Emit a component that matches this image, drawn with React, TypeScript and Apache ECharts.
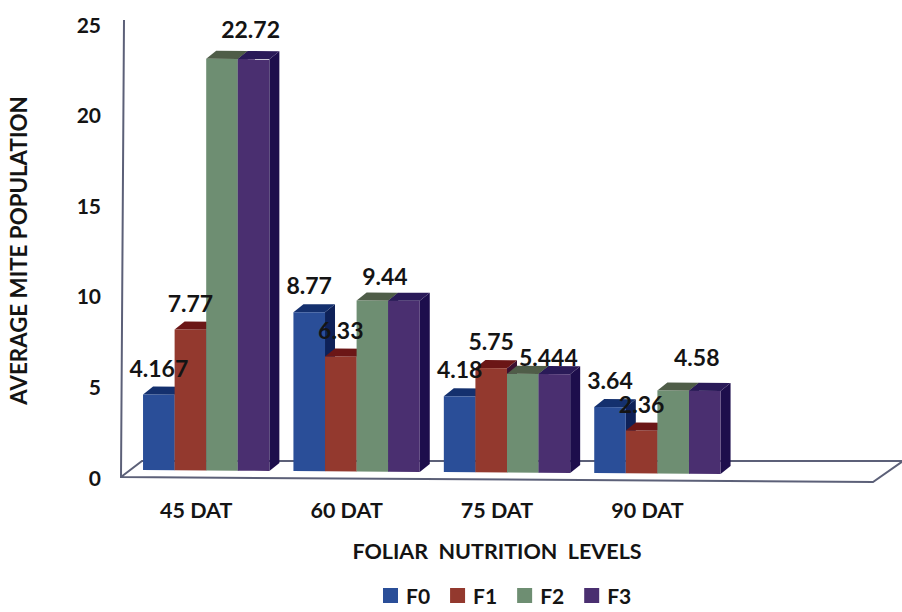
import React, { useEffect, useRef } from "react";
import * as echarts from "echarts";

const categories = ["45 DAT", "60 DAT", "75 DAT", "90 DAT"];
const seriesNames = ["F0", "F1", "F2", "F3"];
const f0Values = [4.167, 8.77, 4.18, 3.64];
const f1Values = [7.77, 6.33, 5.75, 2.36];
const f2Values = [22.72, 9.44, 5.444, 4.58];
const f3Values = [22.72, 9.44, 5.444, 4.58];
const yTicks = [0, 5, 10, 15, 20, 25];

// Face colours per series: front, top, side.
const faces = [
  ["#2a4e98", "#14306e", "#0e2158"],
  ["#93392e", "#6b1616", "#3c1030"],
  ["#6e8e72", "#4f5d48", "#2a2f50"],
  ["#4a2f70", "#2a1a58", "#1d0e4c"],
];

// Oblique projection of the bars onto the floor of the box.
const DEPTH_X = 10;
const DEPTH_Y = -8;
const BAR_OFFSET_X = 10;
const BAR_OFFSET_Y = -7;
const FLOOR_SKEW = 0.0066;
const FLOOR_LEFT = 121;

const FONT = "Lato, 'Open Sans', sans-serif";
const INK = "#141414";
const FRAME = "#5c6078";

const project = (x: number, y: number): [number, number] => [
  x + BAR_OFFSET_X,
  y + BAR_OFFSET_Y + (x - FLOOR_LEFT) * FLOOR_SKEW,
];

const barSeries = (index: number, values: number[]) => ({
  type: "custom",
  name: seriesNames[index],
  z: 2,
  itemStyle: { color: faces[index][0] },
  encode: { x: 0, y: 1 },
  data: values.map((v, i) => [i, v]),
  renderItem: (_: any, api: any) => {
    const cat = api.value(0);
    const top = api.coord([cat, api.value(1)]);
    const base = api.coord([cat, 0]);
    const width = api.size([1, 0])[0] * 0.21;
    const left = top[0] + (index - 2) * width;
    const right = left + width;
    const leftTop = project(left, top[1]);
    const rightTop = project(right, top[1]);
    const leftBase = project(left, base[1]);
    const rightBase = project(right, base[1]);
    const shift = (p: [number, number]) => [p[0] + DEPTH_X, p[1] + DEPTH_Y];
    const [front, topFace, side] = faces[index];
    return {
      type: "group",
      children: [
        {
          type: "polygon",
          shape: { points: [rightTop, shift(rightTop), shift(rightBase), rightBase] },
          style: { fill: side },
        },
        {
          type: "polygon",
          shape: { points: [leftTop, shift(leftTop), shift(rightTop), rightTop] },
          style: { fill: topFace },
        },
        {
          type: "polygon",
          shape: { points: [leftTop, rightTop, rightBase, leftBase] },
          style: { fill: front },
        },
      ],
    };
  },
});

// Value labels for F0, F1 and F3 sit above their bars; F3's are moved clear of neighbours.
const f3LabelShift = [
  [-3, -3],
  [-19, 2],
  [-6, 10],
  [-8, -7],
];

const labelSeries = (index: number, values: number[], shifts?: number[][]) => ({
  type: "custom",
  name: `${seriesNames[index]} values`,
  z: 5,
  encode: { x: 0, y: 1 },
  data: values.map((v, i) => [i, v]),
  renderItem: (_: any, api: any) => {
    const cat = api.value(0);
    const value = api.value(1);
    const top = api.coord([cat, value]);
    const width = api.size([1, 0])[0] * 0.21;
    const left = top[0] + (index - 2) * width;
    const p = project(left + width / 2, top[1]);
    const s = shifts ? shifts[cat] : [0, 0];
    return {
      type: "text",
      style: {
        text: String(value),
        x: p[0] + s[0],
        y: p[1] - 27 + s[1],
        align: "center",
        verticalAlign: "middle",
        fontFamily: FONT,
        fontWeight: "bold",
        fontSize: 23,
        fill: INK,
      },
    };
  },
});

export default function App() {
  const ref = useRef<HTMLDivElement>(null);
  useEffect(() => {
    const chart = echarts.init(ref.current!, undefined, { renderer: "svg" });
    chart.setOption({
      animation: false,
      backgroundColor: "#ffffff",
      grid: { left: 121, top: 24, width: 752, height: 453, outerBoundsMode: "none" },
      legend: {
        data: seriesNames,
        left: 383,
        top: 585,
        padding: 0,
        icon: "rect",
        itemWidth: 15,
        itemHeight: 15,
        itemGap: 20,
        textStyle: { fontFamily: FONT, fontWeight: "bold", fontSize: 21, color: INK, padding: [0, 0, 0, 3] },
      },
      xAxis: {
        type: "category",
        // The trailing empty band leaves the floor open to the right of the last group.
        data: [...categories, ""],
        axisLine: { show: false },
        axisTick: { show: false },
        axisLabel: { fontFamily: FONT, fontWeight: "bold", fontSize: 21.5, color: INK, margin: 22, interval: 0 },
        name: "FOLIAR  NUTRITION  LEVELS",
        nameLocation: "middle",
        nameGap: 63,
        nameTextStyle: { fontFamily: FONT, fontWeight: "bold", fontSize: 21.5, color: INK },
      },
      yAxis: {
        type: "value",
        min: yTicks[0],
        max: yTicks[yTicks.length - 1],
        interval: 5,
        splitLine: { show: false },
        axisLine: { show: false },
        axisTick: { show: false },
        axisLabel: {
          fontFamily: FONT,
          fontWeight: "bold",
          fontSize: 21,
          color: INK,
          margin: 20,
          padding: [0, 0, 8, 0],
        },
        name: "AVERAGE MITE POPULATION",
        nameLocation: "middle",
        nameGap: 92,
        nameTextStyle: { fontFamily: FONT, fontWeight: "bold", fontSize: 22.3, color: INK },
      },
      // Open box of the plot: left edge and floor outline.
      graphic: [
        {
          type: "polyline",
          z: 0,
          shape: { points: [[124, 20], [121, 477], [873, 482], [903, 461], [142, 461], [121, 477]] },
          style: { stroke: FRAME, lineWidth: 2, fill: "none" },
        },
      ],
      series: [
        barSeries(0, f0Values),
        barSeries(1, f1Values),
        barSeries(2, f2Values),
        barSeries(3, f3Values),
        labelSeries(0, f0Values),
        labelSeries(1, f1Values),
        labelSeries(3, f3Values, f3LabelShift),
      ],
    });
    return () => chart.dispose();
  }, []);
  return <div ref={ref} style={{ position: "fixed", left: 0, top: 0, width: 902, height: 612 }} />;
}
